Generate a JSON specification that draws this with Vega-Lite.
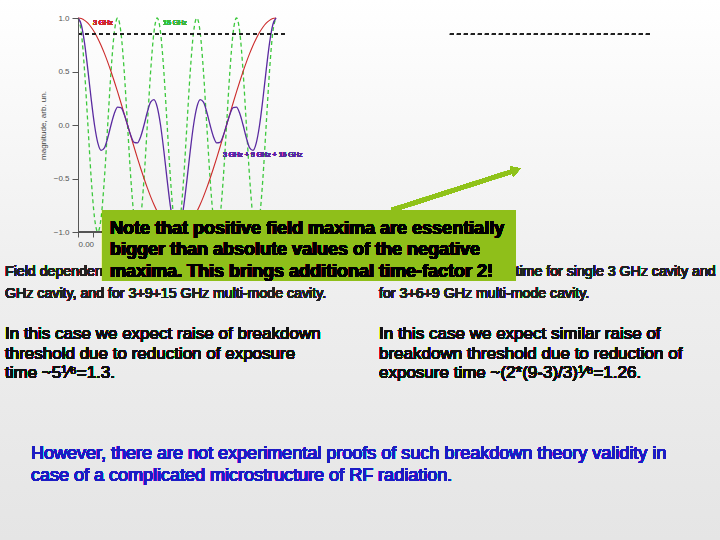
{
  "$schema": "https://vega.github.io/schema/vega-lite/v6.json",
  "width": 208,
  "height": 214,
  "autosize": {"type": "none"},
  "padding": {"left": 78, "top": 18, "right": 434, "bottom": 308},
  "background": "#f4f4f4",
  "config": {"view": {"stroke": null}, "font": "Liberation Sans"},
  "data": {"values": [
    {"t": 0, "c3": 1, "c15": 1, "s": 1},
    {"t": 0.00556, "c3": 0.99452, "c15": 0.86603, "s": 0.9372},
    {"t": 0.01111, "c3": 0.97815, "c15": 0.5, "s": 0.76239},
    {"t": 0.01667, "c3": 0.95106, "c15": 0, "s": 0.51295},
    {"t": 0.02222, "c3": 0.91355, "c15": -0.5, "s": 0.24086},
    {"t": 0.02778, "c3": 0.86603, "c15": -0.86603, "s": 0},
    {"t": 0.03333, "c3": 0.80902, "c15": -1, "s": -0.16667},
    {"t": 0.03889, "c3": 0.74314, "c15": -0.86603, "s": -0.23689},
    {"t": 0.04444, "c3": 0.66913, "c15": -0.5, "s": -0.2133},
    {"t": 0.05, "c3": 0.58779, "c15": 0, "s": -0.12109},
    {"t": 0.05556, "c3": 0.5, "c15": 0.5, "s": 0},
    {"t": 0.06111, "c3": 0.40674, "c15": 0.86603, "s": 0.10724},
    {"t": 0.06667, "c3": 0.30902, "c15": 1, "s": 0.16667},
    {"t": 0.07222, "c3": 0.20791, "c15": 0.86603, "s": 0.16205},
    {"t": 0.07778, "c3": 0.10453, "c15": 0.5, "s": 0.0985},
    {"t": 0.08333, "c3": 0, "c15": 0, "s": 0},
    {"t": 0.08889, "c3": -0.10453, "c15": -0.5, "s": -0.0985},
    {"t": 0.09444, "c3": -0.20791, "c15": -0.86603, "s": -0.16205},
    {"t": 0.1, "c3": -0.30902, "c15": -1, "s": -0.16667},
    {"t": 0.10556, "c3": -0.40674, "c15": -0.86603, "s": -0.10724},
    {"t": 0.11111, "c3": -0.5, "c15": -0.5, "s": 0},
    {"t": 0.11667, "c3": -0.58779, "c15": 0, "s": 0.12109},
    {"t": 0.12222, "c3": -0.66913, "c15": 0.5, "s": 0.2133},
    {"t": 0.12778, "c3": -0.74314, "c15": 0.86603, "s": 0.23689},
    {"t": 0.13333, "c3": -0.80902, "c15": 1, "s": 0.16667},
    {"t": 0.13889, "c3": -0.86603, "c15": 0.86603, "s": 0},
    {"t": 0.14444, "c3": -0.91355, "c15": 0.5, "s": -0.24086},
    {"t": 0.15, "c3": -0.95106, "c15": 0, "s": -0.51295},
    {"t": 0.15556, "c3": -0.97815, "c15": -0.5, "s": -0.76239},
    {"t": 0.16111, "c3": -0.99452, "c15": -0.86603, "s": -0.9372},
    {"t": 0.16667, "c3": -1, "c15": -1, "s": -1},
    {"t": 0.17222, "c3": -0.99452, "c15": -0.86603, "s": -0.9372},
    {"t": 0.17778, "c3": -0.97815, "c15": -0.5, "s": -0.76239},
    {"t": 0.18333, "c3": -0.95106, "c15": 0, "s": -0.51295},
    {"t": 0.18889, "c3": -0.91355, "c15": 0.5, "s": -0.24086},
    {"t": 0.19444, "c3": -0.86603, "c15": 0.86603, "s": 0},
    {"t": 0.2, "c3": -0.80902, "c15": 1, "s": 0.16667},
    {"t": 0.20556, "c3": -0.74314, "c15": 0.86603, "s": 0.23689},
    {"t": 0.21111, "c3": -0.66913, "c15": 0.5, "s": 0.2133},
    {"t": 0.21667, "c3": -0.58779, "c15": 0, "s": 0.12109},
    {"t": 0.22222, "c3": -0.5, "c15": -0.5, "s": 0},
    {"t": 0.22778, "c3": -0.40674, "c15": -0.86603, "s": -0.10724},
    {"t": 0.23333, "c3": -0.30902, "c15": -1, "s": -0.16667},
    {"t": 0.23889, "c3": -0.20791, "c15": -0.86603, "s": -0.16205},
    {"t": 0.24444, "c3": -0.10453, "c15": -0.5, "s": -0.0985},
    {"t": 0.25, "c3": 0, "c15": 0, "s": 0},
    {"t": 0.25556, "c3": 0.10453, "c15": 0.5, "s": 0.0985},
    {"t": 0.26111, "c3": 0.20791, "c15": 0.86603, "s": 0.16205},
    {"t": 0.26667, "c3": 0.30902, "c15": 1, "s": 0.16667},
    {"t": 0.27222, "c3": 0.40674, "c15": 0.86603, "s": 0.10724},
    {"t": 0.27778, "c3": 0.5, "c15": 0.5, "s": 0},
    {"t": 0.28333, "c3": 0.58779, "c15": 0, "s": -0.12109},
    {"t": 0.28889, "c3": 0.66913, "c15": -0.5, "s": -0.2133},
    {"t": 0.29444, "c3": 0.74314, "c15": -0.86603, "s": -0.23689},
    {"t": 0.3, "c3": 0.80902, "c15": -1, "s": -0.16667},
    {"t": 0.30556, "c3": 0.86603, "c15": -0.86603, "s": 0},
    {"t": 0.31111, "c3": 0.91355, "c15": -0.5, "s": 0.24086},
    {"t": 0.31667, "c3": 0.95106, "c15": 0, "s": 0.51295},
    {"t": 0.32222, "c3": 0.97815, "c15": 0.5, "s": 0.76239},
    {"t": 0.32778, "c3": 0.99452, "c15": 0.86603, "s": 0.9372},
    {"t": 0.33333, "c3": 1, "c15": 1, "s": 1}
  ]},
  "layer": [
    {
      "mark": {"type": "rect", "color": {"gradient": "linear", "x1": 0, "y1": 0, "x2": 0, "y2": 1, "stops": [{"offset": 0, "color": "#ffffff"}, {"offset": 0.5, "color": "#efefef"}, {"offset": 1, "color": "#e5e5e5"}]}},
      "encoding": {
        "x": {"datum": -0.13125, "type": "quantitative", "scale": {"domain": [0, 0.35], "nice": false, "zero": false},
              "axis": {"values": [0, 0.025], "labelExpr": "datum.value == 0 ? '0.00' : ''", "domain": false, "grid": false, "zindex": 1, "title": null, "tickSize": 5, "tickColor": "#555", "labelFontSize": 8, "labelColor": "#555", "labelPadding": 3}},
        "x2": {"datum": 1.08028},
        "y": {"datum": 1.16822, "type": "quantitative", "scale": {"domain": [-1, 1], "nice": false, "zero": false},
              "axis": {"values": [-1, -0.75, -0.5, -0.25, 0, 0.25, 0.5, 0.75, 1], "labelExpr": "datum.value % 0.5 == 0 ? format(datum.value, '.1f') : ''", "grid": false, "zindex": 1, "title": "magnitude, arb. un.", "titleFontSize": 8, "titleFontWeight": "normal", "titleColor": "#444", "titlePadding": 6, "tickSize": 6, "tickColor": "#555", "domainColor": "#555", "labelFontSize": 8, "labelColor": "#555", "labelPadding": 3}},
        "y2": {"datum": -3.8785}
      }
    },
    {
      "mark": {"type": "rule", "color": "#555", "strokeWidth": 1},
      "encoding": {"x": {"datum": 0, "type": "quantitative"}, "x2": {"datum": 0.35}, "y": {"datum": -1, "type": "quantitative"}}
    },
    {
      "mark": {"type": "line", "color": "#3cc83c", "strokeWidth": 1.3, "strokeDash": [4, 3], "interpolate": "monotone"},
      "encoding": {"x": {"field": "t", "type": "quantitative"}, "y": {"field": "c15", "type": "quantitative"}}
    },
    {
      "mark": {"type": "line", "color": "#cc2a2a", "strokeWidth": 1.1, "interpolate": "monotone"},
      "encoding": {"x": {"field": "t", "type": "quantitative"}, "y": {"field": "c3", "type": "quantitative"}}
    },
    {
      "mark": {"type": "line", "color": "#5a2aa0", "strokeWidth": 1.3, "interpolate": "monotone"},
      "encoding": {"x": {"field": "t", "type": "quantitative"}, "y": {"field": "s", "type": "quantitative"}}
    },
    {
      "mark": {"type": "rule", "color": "#222", "strokeWidth": 0.8, "strokeDash": [4, 3]},
      "encoding": {"x": {"datum": 0, "type": "quantitative"}, "x2": {"datum": 0.35}, "y": {"datum": 0.85, "type": "quantitative"}}
    },
    {
      "mark": {"type": "rule", "color": "#222", "strokeWidth": 0.8, "strokeDash": [4, 3]},
      "encoding": {"x": {"datum": 0.62596, "type": "quantitative"}, "x2": {"datum": 0.9625}, "y": {"datum": 0.85, "type": "quantitative"}}
    },
    {
      "mark": {"type": "text", "text": "3 GHz", "color": "#cc2a2a", "fontSize": 7, "align": "left", "baseline": "middle"},
      "encoding": {"x": {"datum": 0.02524, "type": "quantitative"}, "y": {"datum": 0.95327, "type": "quantitative"}}
    },
    {
      "mark": {"type": "text", "text": "15 GHz", "color": "#3cb83c", "fontSize": 7, "align": "left", "baseline": "middle"},
      "encoding": {"x": {"datum": 0.14303, "type": "quantitative"}, "y": {"datum": 0.95327, "type": "quantitative"}}
    },
    {
      "mark": {"type": "text", "text": "3 GHz + 9 GHz + 15 GHz", "color": "#5a2aa0", "fontSize": 7, "align": "left", "baseline": "middle"},
      "encoding": {"x": {"datum": 0.24399, "type": "quantitative"}, "y": {"datum": -0.28037, "type": "quantitative"}}
    },
    {
      "mark": {"type": "text", "text": ["Field dependence on time for single 3 GHz cavity, for 15", "GHz cavity, and for 3+9+15 GHz multi-mode cavity."], "color": "#222", "fontSize": 14.2, "lineHeight": 22, "align": "left", "baseline": "alphabetic"},
      "encoding": {"x": {"datum": -0.12284, "type": "quantitative"}, "y": {"datum": -1.41121, "type": "quantitative"}}
    },
    {
      "mark": {"type": "text", "text": ["Field dependence on time for single 3 GHz cavity and", "for 3+6+9 GHz multi-mode cavity."], "color": "#222", "fontSize": 14.2, "lineHeight": 22, "align": "left", "baseline": "alphabetic"},
      "encoding": {"x": {"datum": 0.50649, "type": "quantitative"}, "y": {"datum": -1.41121, "type": "quantitative"}}
    },
    {
      "mark": {"type": "text", "text": ["In this case we expect raise of breakdown", "threshold due to reduction of exposure", "time ~5¹⁄⁶=1.3."], "color": "#111", "fontSize": 17, "lineHeight": 19.5, "align": "left", "baseline": "alphabetic"},
      "encoding": {"x": {"datum": -0.12284, "type": "quantitative"}, "y": {"datum": -2.0, "type": "quantitative"}}
    },
    {
      "mark": {"type": "text", "text": ["In this case we expect similar raise of", "breakdown threshold due to reduction of", "exposure time ~(2*(9-3)/3)¹⁄⁶=1.26."], "color": "#111", "fontSize": 17, "lineHeight": 19.5, "align": "left", "baseline": "alphabetic"},
      "encoding": {"x": {"datum": 0.50649, "type": "quantitative"}, "y": {"datum": -2.0, "type": "quantitative"}}
    },
    {
      "mark": {"type": "text", "text": ["However, there are not experimental proofs of such breakdown theory validity in", "case of a complicated microstructure of RF radiation."], "color": "#1c1cc4", "fontSize": 18, "lineHeight": 22, "align": "left", "baseline": "alphabetic"},
      "encoding": {"x": {"datum": -0.07909, "type": "quantitative"}, "y": {"datum": -3.1215, "type": "quantitative"}}
    },
    {
      "mark": {"type": "rule", "color": "#8fc21a", "strokeWidth": 4},
      "encoding": {"x": {"datum": 0.52836, "type": "quantitative"}, "x2": {"datum": 0.73029}, "y": {"datum": -0.79439, "type": "quantitative"}, "y2": {"datum": -0.43458}}
    },
    {
      "mark": {"type": "point", "shape": "triangle-right", "filled": true, "color": "#8fc21a", "opacity": 1, "size": 110, "angle": -18},
      "encoding": {"x": {"datum": 0.73702, "type": "quantitative"}, "y": {"datum": -0.42056, "type": "quantitative"}}
    },
    {
      "mark": {"type": "rect", "color": "#8fbf1a"},
      "encoding": {"x": {"datum": 0.04038, "type": "quantitative"}, "x2": {"datum": 0.73702}, "y": {"datum": -0.79439, "type": "quantitative"}, "y2": {"datum": -1.45794}}
    },
    {
      "mark": {"type": "text", "text": ["Note that positive field maxima are essentially", "bigger than absolute values of the negative", "maxima. This brings additional time-factor 2!"], "fontWeight": "bold", "color": "#000", "fontSize": 18, "lineHeight": 21.5, "align": "left", "baseline": "alphabetic"},
      "encoding": {"x": {"datum": 0.05385, "type": "quantitative"}, "y": {"datum": -1.01869, "type": "quantitative"}}
    }
  ]
}
